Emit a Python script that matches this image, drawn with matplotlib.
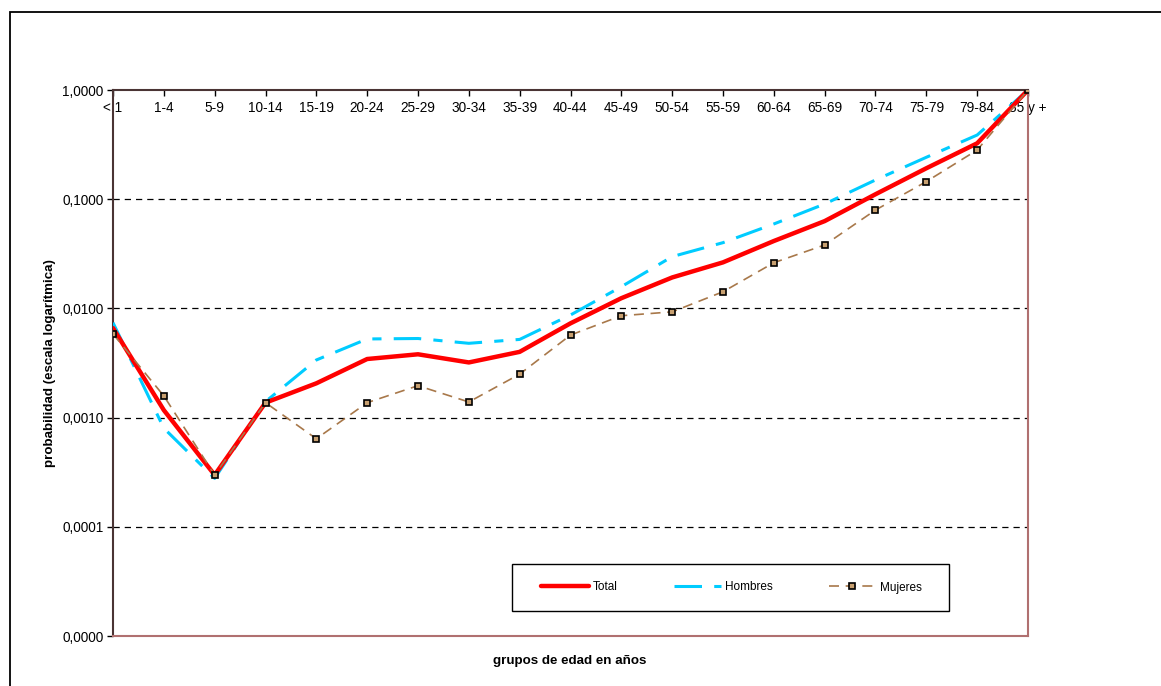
import matplotlib
matplotlib.use("Agg")
import matplotlib.pyplot as plt
from matplotlib.patches import Rectangle
from matplotlib.ticker import FixedLocator, NullLocator

plt.rcParams['font.family'] = ['Liberation Sans', 'DejaVu Sans']

categorias = ["< 1", "1-4", "5-9", "10-14", "15-19", "20-24", "25-29", "30-34", "35-39",
              "40-44", "45-49", "50-54", "55-59", "60-64", "65-69", "70-74", "75-79",
              "79-84", "85 y +"]

total = [0.0066, 0.00117, 0.000298, 0.00137, 0.00206, 0.00344, 0.0038, 0.0032, 0.0040,
         0.0073, 0.0124, 0.0192, 0.0264, 0.0414, 0.063, 0.111, 0.192, 0.325, 1.0]
hombres = [0.0074, 0.0008, 0.000278, 0.0014, 0.00337, 0.00525, 0.0053, 0.00479, 0.0052,
           0.0087, 0.0158, 0.0298, 0.040, 0.0593, 0.0904, 0.150, 0.242, 0.387, 1.0]
mujeres = [0.00583, 0.00158, 0.000298, 0.00137, 0.00064, 0.00137, 0.00196, 0.00139, 0.0025,
           0.0057, 0.00857, 0.0093, 0.0142, 0.0262, 0.0381, 0.0796, 0.145, 0.282, 1.0]

ytick_vals = [1e-5, 1e-4, 1e-3, 1e-2, 1e-1, 1.0]
ytick_labels = ["0,0000", "0,0001", "0,0010", "0,0100", "0,1000", "1,0000"]

W, H = 1161, 686
fig = plt.figure(figsize=(W / 100, H / 100), dpi=100)
fig.patch.set_facecolor('white')

# outer frame (top and left visible)
fig.patches.append(Rectangle((10 / W, -0.1), 1.2, 1 - 12 / H + 0.1, transform=fig.transFigure,
                             fill=False, edgecolor='black', linewidth=1.3, zorder=0))

ax = fig.add_axes([113 / W, 1 - 636 / H, (1028 - 113) / W, (636 - 90) / H])
ax.set_yscale('log')
ax.set_ylim(1e-5, 1.0)
x = list(range(len(categorias)))
ax.set_xlim(0, len(categorias) - 1)

for v in [1e-4, 1e-3, 1e-2, 1e-1]:
    ax.axhline(v, color='black', linestyle=(0, (5, 4)), linewidth=0.9, zorder=1)

ax.plot(x, total, color='#FF0000', linewidth=3.2, solid_capstyle='round', zorder=4, label='Total')
ax.plot(x, hombres, color='#00CCFF', linewidth=2.2, linestyle=(0, (9, 4, 3, 4)), zorder=3, label='Hombres')
ax.plot(x, mujeres, color='#A8784A', linewidth=1.2, linestyle=(0, (6, 4)), marker='s',
        markersize=5, markerfacecolor='#C8A070', markeredgecolor='black', markeredgewidth=1.2,
        zorder=5, label='Mujeres')

ax.yaxis.set_major_locator(FixedLocator(ytick_vals))
ax.yaxis.set_minor_locator(NullLocator())
ax.set_yticklabels(ytick_labels)
ax.tick_params(axis='y', direction='out', length=4, width=1, labelsize=9.8, pad=3, colors='black')

ax.set_xticks(x)
ax.set_xticklabels(categorias)
ax.tick_params(axis='x', top=True, bottom=False, labeltop=True, labelbottom=False,
               direction='in', length=4, width=1, labelsize=9.8, pad=-18)

ax.spines['left'].set_color('#4a3434')
ax.spines['top'].set_color('#4a3434')
ax.spines['bottom'].set_color('#B07070')
ax.spines['right'].set_color('#B07070')
for s in ax.spines.values():
    s.set_linewidth(1.5)

ax.set_ylabel('probabilidad (escala logarítmica)', fontsize=9.6, fontweight='bold')
ax.yaxis.set_label_coords((56 - 113) / 915, 0.5)
fig.text(570 / W, 1 - 661 / H, 'grupos de edad en años', fontsize=9.6, fontweight='bold',
         ha='center', va='center')

# legend box
lx0, lx1, ly0, ly1 = 512, 949, 564, 611
fig.patches.append(Rectangle((lx0 / W, 1 - ly1 / H), (lx1 - lx0) / W, (ly1 - ly0) / H,
                             transform=fig.transFigure, facecolor='white', edgecolor='black',
                             linewidth=1.0, zorder=6))
leg = fig.legend(*ax.get_legend_handles_labels(), loc='center',
                 bbox_to_anchor=((lx0 + lx1) / 2 / W + 0.001, 1 - (ly0 + ly1) / 2 / H),
                 ncol=3, frameon=False, fontsize=8.5, handlelength=4.0, handletextpad=0.35,
                 columnspacing=4.75, borderpad=0)
leg.set_zorder(7)

fig.savefig('out.png', dpi=100)
